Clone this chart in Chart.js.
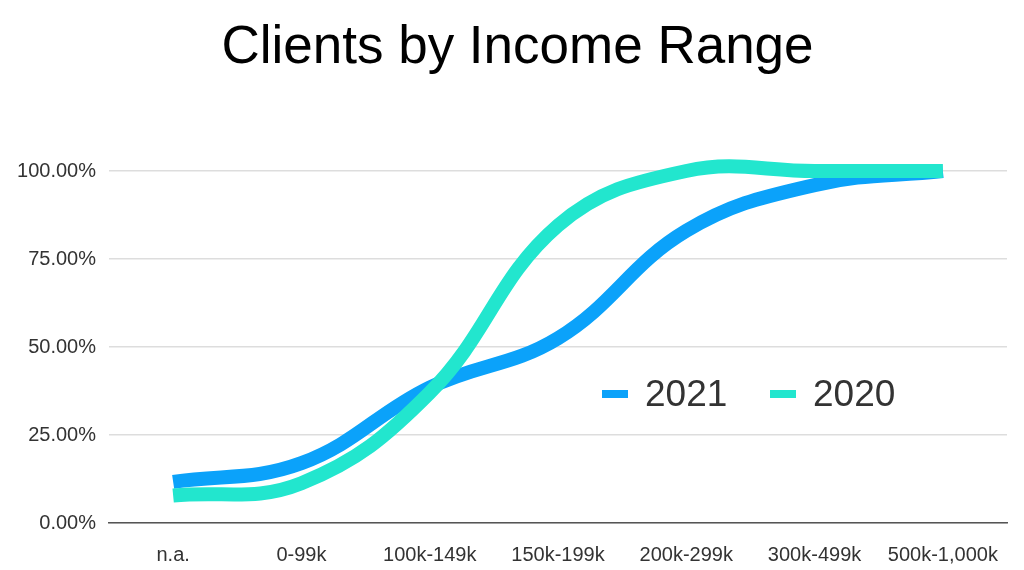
<!DOCTYPE html>
<html>
<head>
<meta charset="utf-8">
<script src="https://cdn.jsdelivr.net/npm/chart.js@4"></script>
<style>
  html, body { margin: 0; padding: 0; background: #fff; }
  #wrap { position: relative; width: 1024px; height: 570px; }
  #title { position: absolute; left: 0; top: 13px; width: 1013px; padding-left: 11px; text-align: center;
           font-family: "Liberation Sans", Arial, sans-serif; font-size: 53px; line-height: 64px; color: #000; }
  #legend { position: absolute; left: 0; top: 0; width: 1024px; height: 570px; pointer-events: none;
            font-family: "Liberation Sans", Arial, sans-serif; color: #333; }
  .item { position: absolute; top: 372px; height: 44px; display: flex; align-items: center; font-size: 37px; }
  .mark { width: 26px; height: 8px; margin-right: 17px; }
</style>
</head>
<body>
<div id="wrap">
  <canvas id="chart" width="1024" height="570"></canvas>
  <div id="title">Clients by Income Range</div>
  <div id="legend"></div>
</div>
<script>
// categories + series (cumulative share, %)
const categories = ["n.a.", "0-99k", "100k-149k", "150k-199k", "200k-299k", "300k-499k", "500k-1,000k"];
const values2021 = [11.7, 17, 38.5, 52.5, 83, 96, 100];
const values2020 = [7.8, 11.3, 37, 84.5, 100, 100, 100];
const yTicks = [0, 25, 50, 75, 100];

const BLUE = "#0BA2FA";
const GREEN = "#22E6CE";

const ctx = document.getElementById("chart").getContext("2d");

const chart = new Chart(ctx, {
  type: "line",
  data: {
    labels: categories,
    datasets: [
      { label: "2021", data: values2021, borderColor: BLUE, backgroundColor: BLUE, order: 1 },
      { label: "2020", data: values2020, borderColor: GREEN, backgroundColor: GREEN, order: 0 }
    ]
  },
  options: {
    responsive: false,
    animation: false,
    layout: { padding: { left: 0, right: 17, top: 171, bottom: 0 } },
    elements: {
      line: { borderWidth: 14, tension: 0.4, capBezierPoints: false, fill: false },
      point: { radius: 0, hoverRadius: 0 }
    },
    datasets: { line: { clip: false } },
    plugins: {
      legend: { display: false },
      tooltip: { enabled: false },
      title: { display: false }
    },
    scales: {
      x: {
        type: "category",
        offset: true,
        grid: { display: false },
        border: { display: true, color: "#555", width: 1.5 },
        ticks: {
          color: "#333",
          padding: 12,
          maxRotation: 0,
          autoSkip: false,
          font: { family: "'Liberation Sans', Arial, sans-serif", size: 20 }
        },
        afterFit: (s) => { s.height = 47; }
      },
      y: {
        min: 0,
        max: 100,
        afterBuildTicks: (s) => { s.ticks = yTicks.map(v => ({ value: v })); },
        grid: { color: "#ddd", lineWidth: 1.5, drawTicks: false },
        border: { display: false },
        ticks: {
          color: "#333",
          padding: 13,
          font: { family: "'Liberation Sans', Arial, sans-serif", size: 20 },
          callback: (v) => v.toFixed(2) + "%"
        },
        afterFit: (s) => { s.width = 109; }
      }
    }
  }
});

// legend inside the plot, built from the datasets
const legend = document.getElementById("legend");
const legendLeft = [602, 770];
chart.data.datasets.forEach((ds, i) => {
  const item = document.createElement("div");
  item.className = "item";
  item.style.left = legendLeft[i] + "px";
  const mark = document.createElement("span");
  mark.className = "mark";
  mark.style.background = ds.borderColor;
  const txt = document.createElement("span");
  txt.textContent = ds.label;
  item.appendChild(mark);
  item.appendChild(txt);
  legend.appendChild(item);
});
</script>
</body>
</html>
